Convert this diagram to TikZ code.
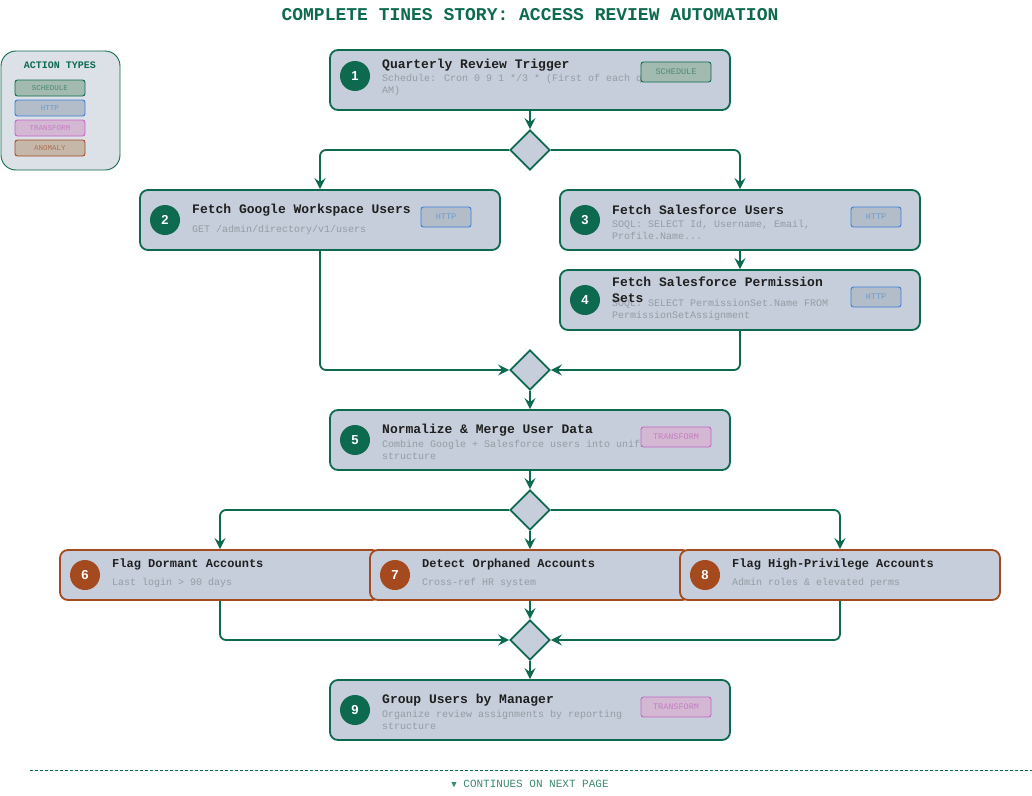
\documentclass[tikz,border=0pt]{standalone}
\usepackage{fontspec}
\setmainfont{Liberation Mono}
\newfontfamily\numfont{Liberation Sans}
\newfontfamily\symfont{DejaVu Sans Mono}
\usetikzlibrary{arrows.meta,shapes.geometric}

\definecolor{tinesgreen}{HTML}{0E6A4E}
\definecolor{anomalyred}{HTML}{A54A1F}
\definecolor{cardfill}{HTML}{C5CEDA}
\definecolor{legendfill}{HTML}{DCE0E7}
\definecolor{subgray}{HTML}{959CA4}
\definecolor{titleink}{HTML}{1F1F1F}
\definecolor{schedfill}{HTML}{A2BAAF}
\definecolor{schedtext}{HTML}{4F8A74}
\definecolor{httpfill}{HTML}{B3BDCA}
\definecolor{httpline}{HTML}{3B7DD8}
\definecolor{httptext}{HTML}{6C9CCB}
\definecolor{xformfill}{HTML}{D3B7D3}
\definecolor{xformline}{HTML}{C466C2}
\definecolor{xformtext}{HTML}{C67FC3}
\definecolor{anomfill}{HTML}{C5B8AB}
\definecolor{anomtext}{HTML}{B0714F}

\tikzset{
  card/.style={draw=tinesgreen, line width=1.8pt, fill=cardfill, rounded corners=8pt, inner sep=0pt},
  alertcard/.style={card, draw=anomalyred},
  numdot/.style={circle, fill=tinesgreen, minimum size=30pt, inner sep=0pt, text=white, font=\numfont\bfseries\fontsize{13}{13}\selectfont},
  cardtitle/.style={anchor=west, inner sep=0pt, text=titleink, font=\bfseries\fontsize{13}{16}\selectfont, align=left},
  smalltitle/.style={cardtitle, font=\bfseries\fontsize{12}{14}\selectfont},
  cardsub/.style={anchor=west, inner sep=0pt, text=subgray, font=\fontsize{10}{12}\selectfont, align=left},
  badge/.style={rounded corners=2.5pt, line width=0.9pt, minimum width=70pt, minimum height=20pt, inner sep=0pt, font=\fontsize{8.5}{9}\selectfont},
  keybadge/.style={badge, minimum height=16pt, font=\fontsize{7.5}{8}\selectfont},
  gate/.style={diamond, draw=tinesgreen, line width=1.8pt, fill=cardfill, minimum width=40pt, minimum height=40pt, inner sep=0pt},
  flow/.style={draw=tinesgreen, line width=1.8pt, rounded corners=6pt, -{Stealth[length=11pt,width=11pt,inset=4pt]}}
}

\begin{document}
\begin{tikzpicture}[x=1pt,y=-1pt]
\useasboundingbox (0,0) rectangle (1032,795);

% title
\node[text=tinesgreen, font=\bfseries\fontsize{18}{18}\selectfont] (title) at (530,15) {COMPLETE TINES STORY: ACCESS REVIEW AUTOMATION};

% legend
\node[draw=tinesgreen, line width=0.9pt, fill=legendfill, rounded corners=15pt, minimum width=119pt, minimum height=119pt, inner sep=0pt] (legend) at (60.5,110.5) {};
\node[text=tinesgreen, font=\bfseries\fontsize{10}{10}\selectfont] (legendhead) at (60,65) {ACTION TYPES};
\node[keybadge, draw=tinesgreen, fill=schedfill, text=schedtext] (lsched) at (50,88) {SCHEDULE};
\node[keybadge, draw=httpline, fill=httpfill, text=httptext] (lhttp) at (50,108) {HTTP};
\node[keybadge, draw=xformline, fill=xformfill, text=xformtext] (lxform) at (50,128) {TRANSFORM};
\node[keybadge, draw=anomalyred, fill=anomfill, text=anomtext] (lanom) at (50,148) {ANOMALY};

% step 1
\node[card, minimum width=400pt, minimum height=60pt] (trigger) at (530,80) {};
\node[numdot] (num1) at (355,76) {1};
\node[cardtitle] (t1) at (382,65) {Quarterly Review Trigger};
\node[cardsub] (s1) at (382,85) {Schedule: Cron 0 9 1 */3 * (First of each quarter at 9\\AM)};
\node[badge, draw=tinesgreen, fill=schedfill, text=schedtext] (b1) at (676,72) {SCHEDULE};

% gate after trigger
\node[gate] (split1) at (530,150) {};

% step 2
\node[card, minimum width=360pt, minimum height=60pt] (google) at (320,220) {};
\node[numdot] (num2) at (165,220) {2};
\node[cardtitle] (t2) at (192,210) {Fetch Google Workspace Users};
\node[cardsub] (s2) at (192,230) {GET /admin/directory/v1/users};
\node[badge, draw=httpline, fill=httpfill, text=httptext, minimum width=50pt] (b2) at (446,217) {HTTP};

% step 3
\node[card, minimum width=360pt, minimum height=60pt] (sfusers) at (740,220) {};
\node[numdot] (num3) at (585,220) {3};
\node[cardtitle] (t3) at (612,210) {Fetch Salesforce Users};
\node[cardsub] (s3) at (612,230) {SOQL: SELECT Id, Username, Email,\\Profile.Name...};
\node[badge, draw=httpline, fill=httpfill, text=httptext, minimum width=50pt] (b3) at (876,217) {HTTP};

% step 4
\node[card, minimum width=360pt, minimum height=60pt] (sfperms) at (740,300) {};
\node[numdot] (num4) at (585,300) {4};
\node[cardsub] (s4) at (612,310) {SOQL: SELECT PermissionSet.Name FROM\\PermissionSetAssignment};
\node[cardtitle] (t4) at (612,290) {Fetch Salesforce Permission\\Sets};
\node[badge, draw=httpline, fill=httpfill, text=httptext, minimum width=50pt] (b4) at (876,297) {HTTP};

\node[gate] (join1) at (530,370) {};

% step 5
\node[card, minimum width=400pt, minimum height=60pt] (normalize) at (530,440) {};
\node[numdot] (num5) at (355,440) {5};
\node[cardtitle] (t5) at (382,430) {Normalize \& Merge User Data};
\node[cardsub] (s5) at (382,450) {Combine Google + Salesforce users into unified\\structure};
\node[badge, draw=xformline, fill=xformfill, text=xformtext] (b5) at (676,437) {TRANSFORM};

\node[gate] (split2) at (530,510) {};

% anomaly checks
\node[alertcard, minimum width=320pt, minimum height=50pt] (dormant) at (220,575) {};
\node[numdot, fill=anomalyred] (num6) at (85,575) {6};
\node[smalltitle] (t6) at (112,564) {Flag Dormant Accounts};
\node[cardsub] (s6) at (112,583) {Last login > 90 days};

\node[alertcard, minimum width=320pt, minimum height=50pt] (orphaned) at (530,575) {};
\node[numdot, fill=anomalyred] (num7) at (395,575) {7};
\node[smalltitle] (t7) at (422,564) {Detect Orphaned Accounts};
\node[cardsub] (s7) at (422,583) {Cross-ref HR system};

\node[alertcard, minimum width=320pt, minimum height=50pt] (privileged) at (840,575) {};
\node[numdot, fill=anomalyred] (num8) at (705,575) {8};
\node[smalltitle] (t8) at (732,564) {Flag High-Privilege Accounts};
\node[cardsub] (s8) at (732,583) {Admin roles \& elevated perms};

\node[gate] (join2) at (530,640) {};

% step 9
\node[card, minimum width=400pt, minimum height=60pt] (group) at (530,710) {};
\node[numdot] (num9) at (355,710) {9};
\node[cardtitle] (t9) at (382,700) {Group Users by Manager};
\node[cardsub] (s9) at (382,720) {Organize review assignments by reporting\\structure};
\node[badge, draw=xformline, fill=xformfill, text=xformtext] (b9) at (676,707) {TRANSFORM};

% connectors
\draw[flow] (trigger.south) -- (split1.north);
\draw[flow] (split1.west) -| (google.north);
\draw[flow] (split1.east) -| (sfusers.north);
\draw[flow] (sfusers.south) -- (sfperms.north);
\draw[flow] (google.south) |- (join1.west);
\draw[flow] (sfperms.south) |- (join1.east);
\draw[flow] (join1.south) -- (normalize.north);
\draw[flow] (normalize.south) -- (split2.north);
\draw[flow] (split2.west) -| (dormant.north);
\draw[flow] (split2.south) -- (orphaned.north);
\draw[flow] (split2.east) -| (privileged.north);
\draw[flow] (dormant.south) |- (join2.west);
\draw[flow] (orphaned.south) -- (join2.north);
\draw[flow] (privileged.south) |- (join2.east);
\draw[flow] (join2.south) -- (group.north);

% page break
\coordinate (cutL) at (30,770);
\coordinate (cutR) at (1032,770);
\draw[tinesgreen, line width=0.8pt, dash pattern=on 3pt off 2pt] (cutL) -- (cutR);
\node[text=tinesgreen!80, font=\fontsize{11}{11}\selectfont] (more) at (530,784) {{\symfont\fontsize{9}{9}\selectfont ▼} CONTINUES ON NEXT PAGE};

\end{tikzpicture}
\end{document}
